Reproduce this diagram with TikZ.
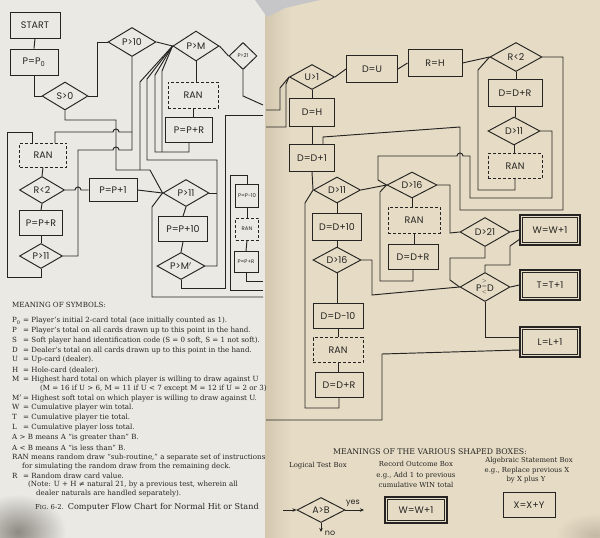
\documentclass[tikz,border=0pt]{standalone}
\usepackage{fontspec}
\setmainfont{DejaVu Serif}
\newfontfamily\chartfont{Poppins}
\usetikzlibrary{shapes.geometric,arrows.meta}
\definecolor{ink}{HTML}{262422}
\definecolor{lpage}{HTML}{EAE9E4}
\definecolor{rpage}{HTML}{E6DCC6}
\definecolor{rshade}{HTML}{D3C7AE}
\definecolor{blob}{HTML}{8E8A84}
\definecolor{topgray}{HTML}{C6C6C8}
\begin{document}
\begin{tikzpicture}[x=1pt,y=-1pt,
  ln/.style={draw=ink, line width=0.95pt},
  sz/.style 2 args={minimum width=#1pt, minimum height=#2pt},
  bx/.style={draw=ink, line width=0.95pt, rectangle, inner sep=0pt, font=\chartfont\fontsize{9.5}{10}\selectfont, text=ink},
  rbx/.style={bx, dash pattern=on 3pt off 2pt},
  obx/.style={bx, line width=1.3pt,
    path picture={\draw[ink, line width=0.6pt]
      ([shift={(2.6pt,2.6pt)}]path picture bounding box.south west) rectangle
      ([shift={(-2.6pt,-2.6pt)}]path picture bounding box.north east);}},
  dm/.style={bx, diamond, aspect=1.7},
  tinyf/.style={font=\chartfont\fontsize{5.3}{6}\selectfont},
  lg/.style={anchor=west, inner sep=0pt, font=\fontsize{7.1}{8}\selectfont, text=ink},
  rg/.style={inner sep=0pt, font=\fontsize{6.9}{8}\selectfont, text=ink},
  arr/.style={ln, -{Stealth[length=4pt,width=3.5pt]}}
]
\useasboundingbox (0,0) rectangle (600,538);
% ---------- pages ----------
\fill[lpage] (0,0) rectangle (265,538);
\fill[rpage] (265,0) rectangle (600,538);
\shade[left color=rshade, right color=rpage] (265,0) rectangle (292,538);
\fill[topgray] (255,0) -- (320,0) -- (285,8) -- (267,17) -- cycle;
\shade[inner color=blob, outer color=lpage] (18,532) ellipse [x radius=48, y radius=38];
\shade[inner color=rshade!80!gray, outer color=rpage] (595,535) ellipse [x radius=40, y radius=22];

% ---------- left page nodes ----------
\node[bx,sz={50}{26}] (start) at (35,25) {START};
\node[bx,sz={48}{26}] (p0) at (34,62) {P=P\textsubscript{0}};
\node[dm,sz={46}{28}] (s0) at (65,96) {S>0};
\node[dm,sz={48}{29}] (p10) at (132,42) {P>10};
\node[dm,sz={46}{30}] (pm) at (196,46) {P>M};
\node[dm,sz={28}{27},tinyf] (p21) at (243,56) {P>21};
\node[rbx,sz={50}{26}] (ran1) at (193,95) {RAN};
\node[bx,sz={47}{25}] (ppr1) at (189,130) {P=P+R};
\node[rbx,sz={47}{24}] (ranL) at (43,155) {RAN};
\node[dm,sz={45}{27}] (rlt2) at (42,190) {R<2};
\node[bx,sz={48}{23}] (ppp1) at (113,190) {P=P+1};
\node[bx,sz={43}{25}] (pprL) at (41,223) {P=P+R};
\node[dm,sz={43}{25}] (p11L) at (41,256) {P>11};
\node[dm,sz={46}{27}] (p11) at (186,193) {P>11};
\node[bx,sz={49}{25}] (pp10) at (183,229) {P=P+10};
\node[dm,sz={48}{27}] (pmp) at (181,266) {P>M$'$};
\node[bx,sz={23}{23},tinyf] (ppm10) at (247,196) {P=P-10};
\node[rbx,sz={23}{22},tinyf] (ran2) at (247,229) {RAN};
\node[bx,sz={24}{21},tinyf] (ppr2) at (246,262) {P=P+R};

% ---------- left page connectors ----------
\draw[ln] (start.south) -- (p0.north);
\draw[ln] (p0.south) |- (s0.west);
\draw[ln] (s0.east) -- (97,96) |- (p10.west);
\draw[ln] (p10.east) -- (pm.west);
\draw[ln] (pm.east) -- (p21.west);
\draw[ln] (s0.south) -- (65,120) -- (116,120) -- (116,170) -- (150,170) -- (p11.west);
\draw[ln] (p10.south) -- (132,150) -- (119,150) arc[start angle=0,end angle=-180,radius=3] -- (78,150) -- (78,256) -- (p11L.east);
\draw[ln] (132,132) -- (119,132) arc[start angle=0,end angle=-180,radius=3] -- (55,132) -- (55,143);
\draw[ln] (p11L.south) -- (41,277) -- (7,277) -- (7,132) -- (32,132) -- (32,143);
\draw[ln] (ranL.south) -- (rlt2.north);
\draw[ln] (rlt2.south) -- (pprL.north);
\draw[ln] (pprL.south) -- (p11L.north);
\draw[ln] (rlt2.east) -- (75,190) arc[start angle=180,end angle=360,radius=3] -- (ppp1.west);
\draw[ln] (ppp1.east) -- (p11.west);
\draw[ln] (pm.south) -- (pm.south |- ran1.north);
\draw[ln] (ran1.south) -- (ran1.south |- ppr1.north);
\draw[ln] (pm.west) -- (140,82) -- (140,170);
\draw[ln] (pm.west) -- (147,79) -- (147,160) -- (217,160) -- (217,266) -- (pmp.east);
\draw[ln] (p11.east) -- (217,193);
\draw[ln] (pm.west) -- (155,75) -- (155,152) -- (189,152) -- (ppr1.south);
\draw[ln] (pm.west) -- (162,71) -- (162,152);
\draw[ln] (p11.west) -- (152,207) -- (152,297) -- (263,297);
\draw[ln] (p11.south) -- (pp10.north);
\draw[ln] (pp10.south) -- (pmp.north);
\draw[ln] (pmp.south) -- (181,288) -- (225,288) -- (225,115) -- (263,115);
\draw[ln] (p21.south) -- (243,96) -- (263,105);
\draw[ln] (263,290) -- (230,290) -- (230,175) -- (247,175) -- (ppm10.north);
\draw[ln] (ppm10.south) -- (ran2.north);
\draw[ln] (ran2.south) -- (ppr2.north);
\draw[ln] (ppr2.south) -- (246,281) -- (263,281);

% ---------- left legend ----------
\node[lg] (h1) at (12,305) {MEANING OF SYMBOLS:};
\node[lg] (s1) at (12,321) {\makebox[11pt][l]{P\textsubscript{0}}= Player's initial 2-card total (ace initially counted as 1).};
\node[lg] (s2) at (12,331) {\makebox[11pt][l]{P}= Player's total on all cards drawn up to this point in the hand.};
\node[lg] (s3) at (12,341) {\makebox[11pt][l]{S}= Soft player hand identification code (S = 0 soft, S = 1 not soft).};
\node[lg] (s4) at (12,351) {\makebox[11pt][l]{D}= Dealer's total on all cards drawn up to this point in the hand.};
\node[lg] (s5) at (12,360) {\makebox[11pt][l]{U}= Up-card (dealer).};
\node[lg] (s6) at (12,370) {\makebox[11pt][l]{H}= Hole-card (dealer).};
\node[lg] (s7) at (12,380) {\makebox[11pt][l]{M}= Highest hard total on which player is willing to draw against U};
\node[lg] (s8) at (40,389) {(M = 16 if U > 6, M = 11 if U < 7 except M = 12 if U = 2 or 3)};
\node[lg] (s9) at (12,398) {\makebox[11pt][l]{M$'$}= Highest soft total on which player is willing to draw against U.};
\node[lg] (s10) at (12,408) {\makebox[11pt][l]{W}= Cumulative player win total.};
\node[lg] (s11) at (12,418) {\makebox[11pt][l]{T}= Cumulative player tie total.};
\node[lg] (s12) at (12,428) {\makebox[11pt][l]{L}= Cumulative player loss total.};
\node[lg] (s13) at (12,438) {A > B means A ``is greater than'' B.};
\node[lg] (s14) at (12,448) {A < B means A ``is less than'' B.};
\node[lg] (s15) at (12,458) {RAN means random draw ``sub-routine,'' a separate set of instructions};
\node[lg] (s16) at (22,467) {for simulating the random draw from the remaining deck.};
\node[lg] (s17) at (12,476) {\makebox[11pt][l]{R}= Random draw card value.};
\node[lg] (s18) at (28,485) {(Note: U + H ≠ natural 21, by a previous test, wherein all};
\node[lg] (s19) at (36,494) {dealer naturals are handled separately).};
\node[anchor=west, inner sep=0pt, text=ink, font=\fontsize{8.1}{10}\selectfont] (cap) at (35,507) {{\fontsize{6.8}{8}\selectfont F{\fontsize{5.4}{7}\selectfont IG}. 6-2.}\enspace Computer Flow Chart for Normal Hit or Stand};

% ---------- right page nodes ----------
\node[dm,sz={45}{25}] (u1) at (312,77) {U>1};
\node[bx,sz={51}{27}] (du) at (372,69) {D=U};
\node[bx,sz={54}{27}] (rh) at (435,63) {R=H};
\node[dm,sz={52}{29}] (r2) at (516,57) {R<2};
\node[bx,sz={54}{27}] (ddr1) at (515,93) {D=D+R};
\node[dm,sz={52}{28}] (d11a) at (514,131) {D>11};
\node[rbx,sz={54}{25}] (ran3) at (515,166) {RAN};
\node[bx,sz={45}{28}] (dh) at (312,112) {D=H};
\node[bx,sz={45}{27}] (dd1) at (312,158) {D=D+1};
\node[dm,sz={47}{26}] (d11b) at (337,190) {D>11};
\node[dm,sz={50}{26}] (d16a) at (412,185) {D>16};
\node[rbx,sz={52}{26}] (ran4) at (414,220) {RAN};
\node[bx,sz={50}{25}] (ddr2) at (413,257) {D=D+R};
\node[bx,sz={49}{27}] (dd10) at (337,227) {D=D+10};
\node[dm,sz={48}{26}] (d16b) at (337,260) {D>16};
\node[bx,sz={50}{25}] (ddm10) at (338,316) {D=D−10};
\node[rbx,sz={50}{25}] (ran5) at (338,350) {RAN};
\node[bx,sz={48}{25}] (ddr3) at (339,385) {D=D+R};
\node[dm,sz={50}{29}] (d21) at (485,232) {D>21};
\node[obx,sz={60}{30}] (w1) at (550,230) {W=W+1};
\node[dm,sz={50}{29}] (pd) at (485,287) {P\raisebox{-0.55ex}{\fontsize{5.5}{5}\selectfont\shortstack{$>$\\$=$\\$<$}}D};
\node[obx,sz={60}{30}] (t1) at (550,285) {T=T+1};
\node[obx,sz={60}{30}] (l1) at (550,342) {L=L+1};

% ---------- right page connectors ----------
\draw[ln] (266,110) -- (280,110) -- (280,88) -- (u1.west);
\draw[ln] (266,127) -- (286,127) -- (286,84) -- (u1.west);
\draw[ln] (u1.east) -- (du.west);
\draw[ln] (du.east) -- (rh.west);
\draw[ln] (rh.east) -- (r2.west);
\draw[ln] (u1.south) -- (dh.north);
\draw[ln] (dh.south) -- (dd1.north);
\draw[ln] (r2.south) -- (r2.south |- ddr1.north);
\draw[ln] (ddr1.south) -- (ddr1.south |- d11a.north);
\draw[ln] (d11a.south) -- (d11a.south |- ran3.north);
\draw[ln] (ran3.south) -- (515,190) -- (478,190) -- (478,70) -- (r2.west);
\draw[ln] (r2.east) -- (563,57) -- (563,210) -- (460,210) -- (460,127) -- (323,137) -- (323,144.5);
\draw[ln] (d11a.east) -- (552,131) -- (552,198) -- (470,198) -- (470,156) -- (463,156) arc[start angle=0,end angle=-180,radius=3] -- (378,156) -- (378,180) -- (d16a.west);
\draw[ln] (dd1.south) -- (d11b.west);
\draw[ln] (d11b.east) -- (d16a.west);
\draw[ln] (d11b.west) -- (305,203) -- (305,408) -- (339,408) -- (ddr3.south);
\draw[ln] (d11b.south) -- (dd10.north);
\draw[ln] (dd10.south) -- (d16b.north);
\draw[ln] (d16b.south) -- (d16b.south |- ddm10.north);
\draw[ln] (ddm10.south) -- (ddm10.south |- ran5.north);
\draw[ln] (ran5.south) -- (ran5.south |- ddr3.north);
\draw[ln] (d16b.east) -- (372,260) -- (372,295) -- (pd.west);
\draw[ln] (d16a.south) -- (d16a.south |- ran4.north);
\draw[ln] (ran4.south) -- (ran4.south |- ddr2.north);
\draw[ln] (ddr2.south) -- (413,281) -- (380,281) -- (380,192) -- (d16a.west);
\draw[ln] (d16a.east) -- (450,185) -- (450,233) -- (d21.west);
\draw[ln] (d21.east) -- (w1.west);
\draw[ln] (d21.south) -- (485,258) -- (450,258) -- (450,280) -- (pd.west);
\draw[ln] (pd.north) -- (485,265) -- (510,265) -- (510,246) -- (520,239);
\draw[ln] (pd.east) -- (t1.west);
\draw[ln] (pd.south) -- (485,337) -- (519.5,337);
\draw[ln] (519.5,350) -- (382,354) -- (382,420) -- (266,420);

% ---------- right legend ----------
\node[rg, font=\fontsize{7.8}{9}\selectfont] (mh) at (430,452) {MEANINGS OF THE VARIOUS SHAPED BOXES:};
\node[rg] (lt) at (318,466) {Logical Test Box};
\node[rg] (ro1) at (416,464) {Record Outcome Box};
\node[rg] (ro2) at (416,476) {e.g., Add 1 to previous};
\node[rg] (ro3) at (416,485) {cumulative WIN total};
\node[rg] (as1) at (529,461) {Algebraic Statement Box};
\node[rg] (as2) at (527,471) {e.g., Replace previous X};
\node[rg] (as3) at (526,480) {by X plus Y};
\node[dm,sz={48}{25}] (lega) at (321,510) {A>B};
\node[obx,sz={62}{26}] (legw) at (416,510) {W=W+1};
\node[bx,sz={52}{25}] (legx) at (529,505) {X=X+Y};
\coordinate (ain) at (283,510);
\coordinate (ayes) at (364,510);
\coordinate (ano) at (321,532);
\draw[arr] (ain) -- (lega.west);
\draw[arr] (lega.east) -- (ayes);
\draw[arr] (lega.south) -- (ano);
\node[inner sep=0pt, font=\chartfont\fontsize{8}{9}\selectfont, text=ink] (yes) at (353,503) {yes};
\node[inner sep=0pt, font=\chartfont\fontsize{8}{9}\selectfont, text=ink] (no) at (330,533) {no};
\end{tikzpicture}
\end{document}
